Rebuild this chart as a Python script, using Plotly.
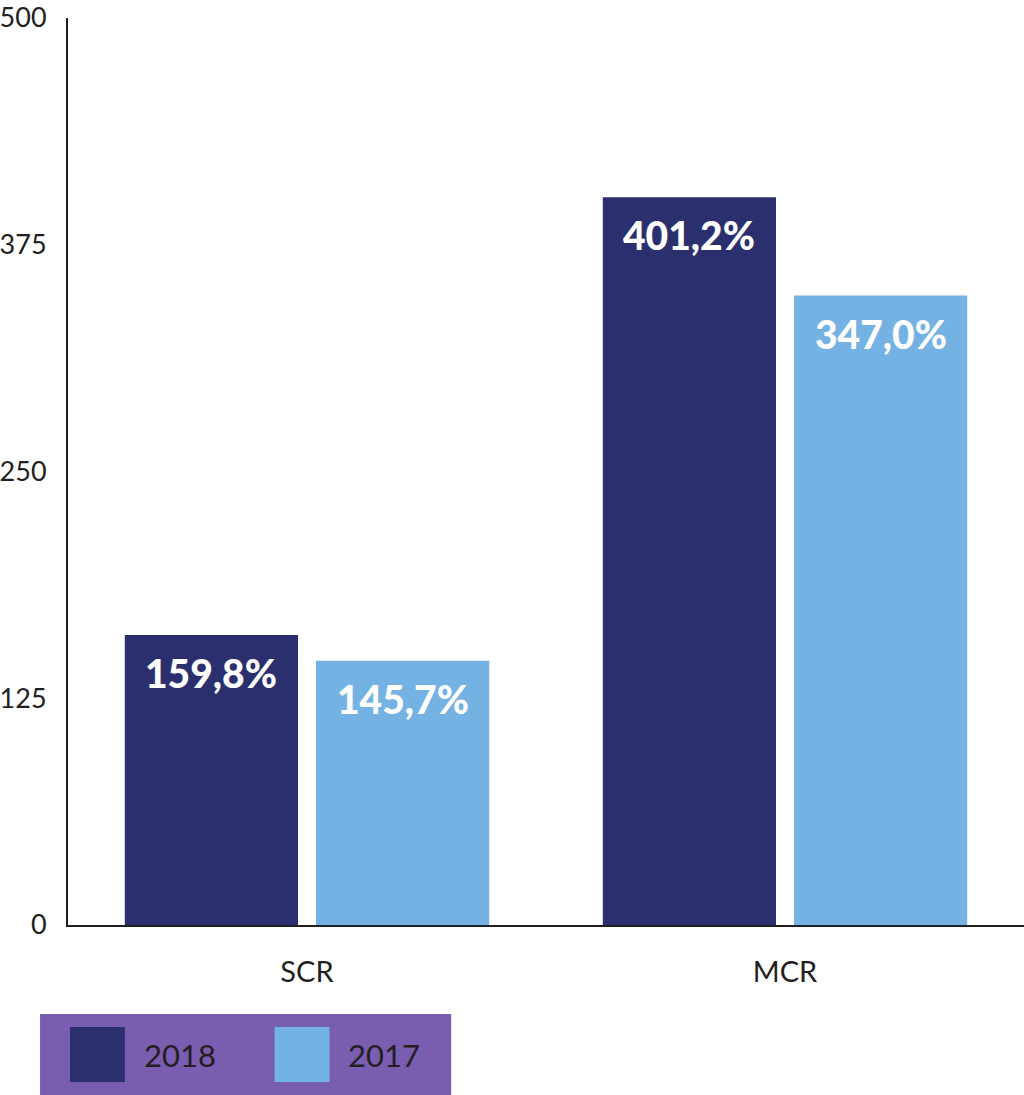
import plotly.graph_objects as go

categories = ["SCR", "MCR"]
series_names = ["2018", "2017"]
values_2018 = [159.8, 401.2]
values_2017 = [145.7, 347.0]
labels_2018 = ["159,8%", "401,2%"]
labels_2017 = ["145,7%", "347,0%"]
tick_vals = [0, 125, 250, 375, 500]

NAVY = "#2b2f6e"
LIGHT = "#74b2e3"
PURPLE = "#795db1"
TEXT = "#231f20"
FONT = "Lato"

W, H = 1024, 1095
ML, MR, MT, MB = 66, 0, 18, 170

fig = go.Figure()
fig.add_trace(go.Bar(x=categories, y=values_2018, name=series_names[0],
                     marker=dict(color=NAVY, line=dict(width=0))))
fig.add_trace(go.Bar(x=categories, y=values_2017, name=series_names[1],
                     marker=dict(color=LIGHT, line=dict(width=0))))

# value labels inside the top of each bar
for vals, labs, shift in ((values_2018, labels_2018, -96), (values_2017, labels_2017, 96)):
    for c, v, t in zip(categories, vals, labs):
        fig.add_annotation(x=c, y=v, text=t, showarrow=False, xshift=shift, yshift=-38,
                           font=dict(family=FONT, size=39, color="white", weight=900),
                           xanchor="center", yanchor="middle")

# custom legend (paper coordinates derived from pixels)
pw, ph = W - ML - MR, H - MT - MB
def px(x): return (x - ML) / pw
def py(y): return (H - MB - y) / ph

fig.add_shape(type="rect", xref="paper", yref="paper", x0=px(38), x1=px(450),
              y0=py(1014), y1=py(1100), fillcolor=PURPLE, line=dict(width=0), layer="below")
for name, col, sx in ((series_names[0], NAVY, 68), (series_names[1], LIGHT, 273)):
    fig.add_shape(type="rect", xref="paper", yref="paper", x0=px(sx), x1=px(sx + 55),
                  y0=py(1027), y1=py(1082), fillcolor=col, line=dict(width=0))
    fig.add_annotation(xref="paper", yref="paper", x=px(sx + 72), y=py(1055), text=name,
                       showarrow=False, xanchor="left", yanchor="middle",
                       font=dict(family=FONT, size=31, color=TEXT))

fig.update_layout(
    width=W, height=H,
    margin=dict(l=ML, r=MR, t=MT, b=MB, pad=0),
    paper_bgcolor="white", plot_bgcolor="white",
    barmode="group", bargap=0.2, bargroupgap=0.094,
    showlegend=False,
    font=dict(family=FONT, color=TEXT),
)
fig.update_xaxes(showgrid=False, showline=True, linecolor=TEXT, linewidth=2,
                 ticks="", tickfont=dict(size=29, color=TEXT), ticklabelstandoff=20)
fig.update_yaxes(range=[0, 500], tickvals=tick_vals, showgrid=False, zeroline=False,
                 showline=True, linecolor=TEXT, linewidth=2, ticks="",
                 tickfont=dict(size=27, color=TEXT), ticklabelstandoff=14)

fig.write_html("out.html", config={"displayModeBar": False},
               post_script="document.body.style.margin='0';document.body.style.overflow='hidden';")
